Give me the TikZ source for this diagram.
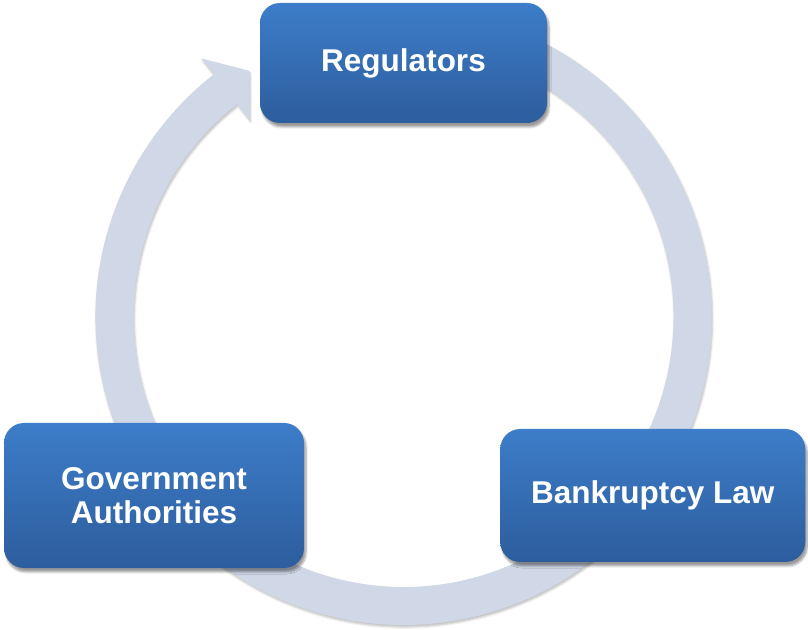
\documentclass[tikz,border=0pt]{standalone}
\usepackage{fontspec}
\setmainfont{Liberation Sans}
\usetikzlibrary{calc,shadows.blur}
\definecolor{boxtop}{RGB}{61,125,201}
\definecolor{boxbottom}{RGB}{45,93,157}
\definecolor{ringfill}{RGB}{208,215,230}
\tikzset{
  stage/.style={rounded corners=20pt, top color=boxtop, bottom color=boxbottom,
    text=white, font=\bfseries\fontsize{31.5}{34}\selectfont, align=center,
    inner sep=0pt,
    blur shadow={shadow xshift=2pt, shadow yshift=-4pt, shadow blur steps=6}}
}
\begin{document}
\begin{tikzpicture}[x=1pt,y=1pt]
  \useasboundingbox (0,0) rectangle (808,629);
  \coordinate (c) at (403.5,312);
            {
    \def\outerring{308}
    \def\innerring{270}

    \fill[ringfill, blur shadow={shadow xshift=1pt, shadow yshift=-2pt, shadow opacity=25}]
      ($(c)+(70:\outerring)$) arc[start angle=70, end angle=-232, radius=\outerring]
      -- ($(c)+(128:328)$) -- ($(c)+(128:289)+(38:30)$) -- ($(c)+(128:250)$)
      -- ($(c)+(128:\innerring)$) arc[start angle=-232, end angle=70, radius=\innerring]
      -- cycle;

    \node[stage, minimum width=287pt, minimum height=120pt] (regulators) at (403.5,566) {Regulators};
    \node[stage, minimum width=300pt, minimum height=145pt] (government) at (154,133.5) {Government\\Authorities};
    \node[stage, minimum width=305pt, minimum height=133pt] (bankruptcy) at (652.75,133.5) {Bankruptcy Law};
}

        \end{tikzpicture}
\end{document}
